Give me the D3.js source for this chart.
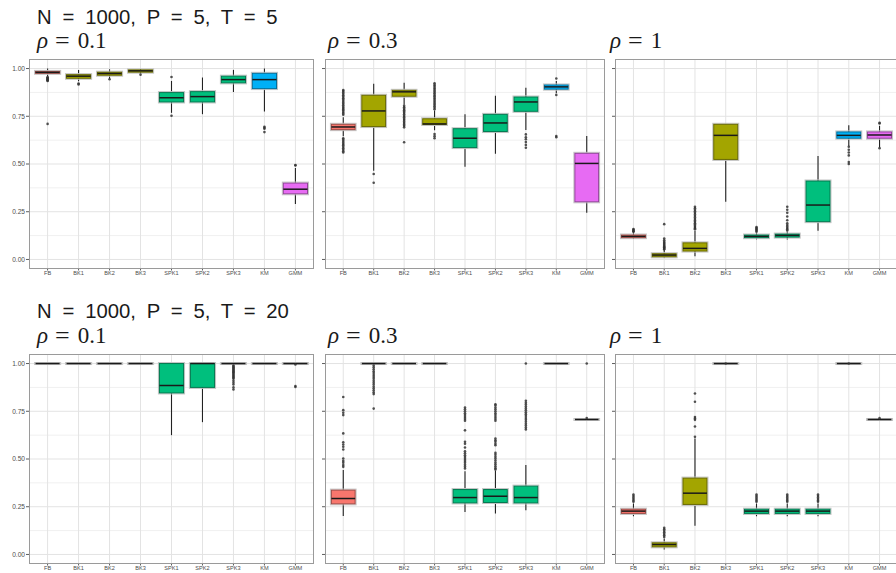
<!DOCTYPE html>
<html>
<head>
<meta charset="utf-8">
<script src="https://cdn.jsdelivr.net/npm/d3@7"></script>
<style>
  html, body { margin: 0; padding: 0; background: #fff; }
  svg { display: block; }
</style>
</head>
<body>
<svg id="chart" width="896" height="573"></svg>
<script>
// ---------------- DATA ----------------
const methods = ["FB","BK1","BK2","BK3","SPK1","SPK2","SPK3","KM","GMM"];
const methodGroup = ["FB","BK","BK","BK","SPK","SPK","SPK","KM","GMM"];
const groupNames = ["FB","BK","SPK","KM","GMM"];
const yTicks = [0, 0.25, 0.5, 0.75, 1];
const yTickLabels = ["0.00","0.25","0.50","0.75","1.00"];
const rowTitles = ["N = 1000, P = 5, T = 5", "N = 1000, P = 5, T = 20"];
const rhoValues = ["0.1", "0.3", "1"];

// T = 5, rho = 0.1
const t5r01Low  = [0.96, 0.933, 0.947, 0.975, 0.768, 0.761, 0.877, 0.775, 0.29];
const t5r01Q1   = [0.975, 0.949, 0.965, 0.981, 0.825, 0.825, 0.925, 0.895, 0.344];
const t5r01Med  = [0.98, 0.96, 0.974, 0.988, 0.847, 0.853, 0.942, 0.942, 0.368];
const t5r01Q3   = [0.985, 0.968, 0.981, 0.993, 0.874, 0.879, 0.96, 0.975, 0.40];
const t5r01High = [1.0, 0.993, 0.996, 0.998, 0.935, 0.953, 0.993, 1.0, 0.479];
const t5r01Out  = [
  [0.955, 0.952, 0.948, 0.945, 0.942, 0.94, 0.937, 0.935, 0.71],
  [0.922, 0.917], [0.944], [0.968], [0.956, 0.753], [], [],
  [0.695, 0.69, 0.685, 0.667], [0.495, 0.492]
];

// T = 5, rho = 0.3
const t5r03Low  = [0.645, 0.465, 0.81, 0.677, 0.486, 0.554, 0.678, 0.872, 0.245];
const t5r03Q1   = [0.68, 0.696, 0.855, 0.707, 0.586, 0.67, 0.776, 0.892, 0.302];
const t5r03Med  = [0.694, 0.778, 0.878, 0.71, 0.635, 0.715, 0.825, 0.904, 0.503];
const t5r03Q3   = [0.708, 0.86, 0.886, 0.737, 0.685, 0.76, 0.851, 0.914, 0.556];
const t5r03High = [0.745, 0.921, 0.925, 0.78, 0.76, 0.857, 0.899, 0.935, 0.647];
const t5r03Out  = [
  [0.888, 0.882, 0.875, 0.868, 0.86, 0.853, 0.845, 0.838, 0.83, 0.822, 0.815, 0.808, 0.8, 0.793, 0.786, 0.78, 0.772, 0.765, 0.758,
   0.635, 0.628, 0.62, 0.612, 0.605, 0.598, 0.59, 0.582, 0.575, 0.567, 0.56],
  [0.448, 0.402],
  [0.805, 0.797, 0.79, 0.782, 0.775, 0.768, 0.76, 0.752, 0.745, 0.737, 0.73, 0.722, 0.715, 0.707, 0.7, 0.692, 0.614],
  [0.923, 0.915, 0.908, 0.9, 0.893, 0.885, 0.878, 0.87, 0.862, 0.855, 0.847, 0.84, 0.832, 0.825, 0.817, 0.81, 0.802, 0.795, 0.787,
   0.657, 0.646, 0.635],
  [], [],
  [0.655, 0.64, 0.63, 0.615, 0.6, 0.585],
  [0.948, 0.862, 0.647, 0.64],
  []
];

// T = 5, rho = 1
const t5r1Low  = [0.107, 0.009, 0.017, 0.302, 0.105, 0.105, 0.15, 0.594, 0.587];
const t5r1Q1   = [0.114, 0.014, 0.044, 0.524, 0.114, 0.117, 0.198, 0.635, 0.635];
const t5r1Med  = [0.121, 0.023, 0.058, 0.65, 0.121, 0.126, 0.285, 0.65, 0.652];
const t5r1Q3   = [0.128, 0.03, 0.087, 0.708, 0.128, 0.133, 0.411, 0.668, 0.668];
const t5r1High = [0.142, 0.049, 0.15, 0.708, 0.138, 0.145, 0.542, 0.703, 0.70];
const t5r1Out  = [
  [0.159, 0.155, 0.152, 0.148, 0.145],
  [0.185, 0.11, 0.1, 0.093, 0.087, 0.082, 0.077, 0.072, 0.068, 0.064, 0.06, 0.056, 0.053],
  [0.276, 0.268, 0.26, 0.252, 0.244, 0.236, 0.228, 0.22, 0.212, 0.204, 0.197, 0.19, 0.183, 0.176, 0.17, 0.164, 0.158],
  [],
  [0.17, 0.165, 0.16, 0.155, 0.15, 0.145],
  [0.276, 0.26, 0.245, 0.225, 0.205, 0.19, 0.18, 0.172, 0.165, 0.158, 0.152],
  [],
  [0.59, 0.575, 0.56, 0.545, 0.51, 0.5],
  [0.716, 0.712, 0.583]
];

// T = 20, rho = 0.1
const t20r01Low  = [1, 1, 1, 1, 0.625, 0.693, 1, 1, 1];
const t20r01Q1   = [1, 1, 1, 1, 0.846, 0.875, 1, 1, 1];
const t20r01Med  = [1, 1, 1, 1, 0.885, 1, 1, 1, 1];
const t20r01Q3   = [1, 1, 1, 1, 1, 1, 1, 1, 1];
const t20r01High = [1, 1, 1, 1, 1, 1, 1, 1, 1];
const t20r01Out  = [
  [], [], [], [], [], [],
  [0.99, 0.985, 0.98, 0.975, 0.97, 0.965, 0.96, 0.955, 0.95, 0.945, 0.94, 0.935, 0.93, 0.925, 0.92, 0.91, 0.9, 0.89, 0.875, 0.864],
  [],
  [0.995, 0.882, 0.877]
];

// T = 20, rho = 0.3
const t20r03Low  = [0.202, 1, 1, 1, 0.223, 0.215, 0.232, 1, 0.707];
const t20r03Q1   = [0.265, 1, 1, 1, 0.27, 0.272, 0.27, 1, 0.707];
const t20r03Med  = [0.293, 1, 1, 1, 0.298, 0.305, 0.298, 1, 0.707];
const t20r03Q3   = [0.337, 1, 1, 1, 0.34, 0.34, 0.358, 1, 0.707];
const t20r03High = [0.442, 1, 1, 1, 0.436, 0.44, 0.468, 1, 0.707];
const t20r03Out  = [
  [0.825, 0.756, 0.742, 0.73, 0.634, 0.588, 0.576, 0.564, 0.55, 0.503, 0.49, 0.48, 0.468, 0.459],
  [0.99, 0.98, 0.97, 0.96, 0.95, 0.94, 0.93, 0.92, 0.91, 0.9, 0.89, 0.88, 0.87, 0.86, 0.85, 0.84, 0.764],
  [], [],
  [0.77, 0.76, 0.75, 0.74, 0.73, 0.72, 0.71, 0.70, 0.65, 0.59, 0.58, 0.56, 0.54, 0.53, 0.52, 0.51, 0.5, 0.49, 0.48, 0.47, 0.46, 0.45],
  [0.787, 0.78, 0.77, 0.76, 0.75, 0.74, 0.73, 0.72, 0.71, 0.70, 0.607, 0.598, 0.59, 0.58, 0.572,
   0.532, 0.522, 0.512, 0.502, 0.492, 0.482, 0.472, 0.462, 0.452, 0.445],
  [1.0, 0.805, 0.795, 0.785, 0.775, 0.765, 0.755, 0.745, 0.735, 0.725, 0.715, 0.705, 0.695, 0.685, 0.675, 0.665, 0.655],
  [],
  [1.0, 0.715]
];

// T = 20, rho = 1
const t20r1Low  = [0.2, 0.026, 0.15, 1, 0.2, 0.2, 0.2, 1, 0.707];
const t20r1Q1   = [0.215, 0.04, 0.262, 1, 0.215, 0.215, 0.215, 1, 0.707];
const t20r1Med  = [0.227, 0.052, 0.321, 1, 0.227, 0.227, 0.227, 1, 0.707];
const t20r1Q3   = [0.237, 0.061, 0.4, 1, 0.237, 0.237, 0.237, 1, 0.707];
const t20r1High = [0.267, 0.084, 0.607, 1, 0.267, 0.267, 0.267, 1, 0.707];
const t20r1Out  = [
  [0.314, 0.306, 0.298, 0.29, 0.283, 0.276],
  [0.14, 0.132, 0.124, 0.116, 0.108, 0.1, 0.092],
  [0.843, 0.8, 0.72, 0.712, 0.705, 0.67, 0.616],
  [1.0],
  [0.314, 0.306, 0.298, 0.29, 0.283, 0.276],
  [0.314, 0.306, 0.298, 0.29, 0.283, 0.276],
  [0.314, 0.306, 0.298, 0.29, 0.283, 0.276],
  [1.0],
  [0.714]
];

// ---------------- STYLE / LAYOUT ----------------
const palette = ["#F8766D", "#A3A500", "#00BF7D", "#00B0F6", "#E76BF3"];
const color = d3.scaleOrdinal().domain(groupNames).range(palette);

const panelData = [
  [t5r01Low, t5r01Q1, t5r01Med, t5r01Q3, t5r01High, t5r01Out],
  [t5r03Low, t5r03Q1, t5r03Med, t5r03Q3, t5r03High, t5r03Out],
  [t5r1Low, t5r1Q1, t5r1Med, t5r1Q3, t5r1High, t5r1Out],
  [t20r01Low, t20r01Q1, t20r01Med, t20r01Q3, t20r01High, t20r01Out],
  [t20r03Low, t20r03Q1, t20r03Med, t20r03Q3, t20r03High, t20r03Out],
  [t20r1Low, t20r1Q1, t20r1Med, t20r1Q3, t20r1High, t20r1Out]
];

const colX = [[29, 314], [325, 605], [615, 898]];
const rowY = [[59, 269], [354, 564]];
const rowTitleY = [24, 318];
const rhoTitleY = [48, 343];
const rhoTitleX = [37, 328, 610];

const svg = d3.select("#chart");

rowTitles.forEach((t, r) => {
  svg.append("text")
    .attr("x", 37).attr("y", rowTitleY[r])
    .attr("font-family", "Liberation Sans, Arial, sans-serif")
    .attr("font-size", 20.3)
    .attr("word-spacing", 5.2)
    .attr("fill", "#1a1a1a")
    .text(t);
});

panelData.forEach((pd, i) => {
  const r = Math.floor(i / 3), c = i % 3;
  const [x0, x1] = colX[c];
  const [y0, y1] = rowY[r];
  const [lo, q1, med, q3, hi, outs] = pd;

  const x = d3.scalePoint().domain(methods).range([x0, x1]).padding(0.6);
  const y = d3.scaleLinear().domain([-0.05, 1.05]).range([y1, y0]);
  const bw = x.step() * 0.78;

  // rho title
  const tt = svg.append("text")
    .attr("x", rhoTitleX[c]).attr("y", rhoTitleY[r])
    .attr("font-family", "Liberation Serif, Times New Roman, serif")
    .attr("font-size", 23)
    .attr("fill", "#1a1a1a");
  tt.append("tspan").attr("font-style", "italic").text("ρ");
  tt.append("tspan").attr("dx", 7).attr("font-size", 26).attr("dy", 1).text("=");
  tt.append("tspan").attr("dx", 8).attr("dy", -1).text(rhoValues[c]);

  const g = svg.append("g");

  // grid
  const minor = [0.125, 0.375, 0.625, 0.875];
  g.selectAll(".gmin").data(minor).enter().append("line")
    .attr("x1", x0).attr("x2", x1)
    .attr("y1", d => y(d)).attr("y2", d => y(d))
    .attr("stroke", "#f0f0f0").attr("stroke-width", 1);
  g.selectAll(".gmaj").data(yTicks).enter().append("line")
    .attr("x1", x0).attr("x2", x1)
    .attr("y1", d => y(d)).attr("y2", d => y(d))
    .attr("stroke", "#e3e3e3").attr("stroke-width", 1);
  g.selectAll(".gv").data(methods).enter().append("line")
    .attr("x1", d => x(d)).attr("x2", d => x(d))
    .attr("y1", y0).attr("y2", y1)
    .attr("stroke", "#e3e3e3").attr("stroke-width", 1);

  // boxes
  methods.forEach((m, k) => {
    const cx = x(m);
    const fill = color(methodGroup[k]);
    const dark = d3.color(fill).darker(1.3).formatHex();
    g.append("line").attr("x1", cx).attr("x2", cx)
      .attr("y1", y(hi[k])).attr("y2", y(q3[k]))
      .attr("stroke", "#222").attr("stroke-width", 1.1);
    g.append("line").attr("x1", cx).attr("x2", cx)
      .attr("y1", y(q1[k])).attr("y2", y(lo[k]))
      .attr("stroke", "#222").attr("stroke-width", 1.1);
    const top = y(q3[k]), bot = y(q1[k]);
    g.append("rect")
      .attr("x", cx - bw / 2 - 1).attr("y", top - 1)
      .attr("width", bw + 2).attr("height", Math.max(0, bot - top) + 2)
      .attr("fill", "none").attr("stroke", "#c4c4c4").attr("stroke-width", 1);
    g.append("rect")
      .attr("x", cx - bw / 2).attr("y", top)
      .attr("width", bw).attr("height", Math.max(0, bot - top))
      .attr("fill", fill).attr("stroke", dark).attr("stroke-width", 1);
    g.append("line")
      .attr("x1", cx - bw / 2).attr("x2", cx + bw / 2)
      .attr("y1", y(med[k])).attr("y2", y(med[k]))
      .attr("stroke", "#1a1a1a").attr("stroke-width", 1.5);
    g.selectAll(null).data(outs[k]).enter().append("circle")
      .attr("cx", cx).attr("cy", d => y(d)).attr("r", 1.3)
      .attr("fill", "#333").attr("fill-opacity", 0.85);
  });

  // border
  svg.append("rect").attr("x", x0 + 0.5).attr("y", y0 + 0.5)
    .attr("width", x1 - x0 - 1).attr("height", y1 - y0 - 1)
    .attr("fill", "none").attr("stroke", "#9a9a9a").attr("stroke-width", 1);

  // y ticks
  const ya = svg.append("g");
  yTicks.forEach((t, k) => {
    ya.append("line").attr("x1", x0 - 3).attr("x2", x0)
      .attr("y1", y(t)).attr("y2", y(t))
      .attr("stroke", "#333").attr("stroke-width", 0.8);
    if (c === 0) {
      ya.append("text").attr("x", x0 - 4).attr("y", y(t))
        .attr("dy", "0.35em").attr("text-anchor", "end")
        .attr("font-family", "Liberation Sans, Arial, sans-serif")
        .attr("font-size", 6.6).attr("fill", "#4d4d4d")
        .text(yTickLabels[k]);
    }
  });
  // x ticks
  methods.forEach(m => {
    svg.append("line").attr("x1", x(m)).attr("x2", x(m))
      .attr("y1", y1).attr("y2", y1 + 1.5)
      .attr("stroke", "#333").attr("stroke-width", 0.8);
    svg.append("text").attr("x", x(m)).attr("y", y1 + 4)
      .attr("dy", "0.35em").attr("text-anchor", "middle")
      .attr("font-family", "Liberation Sans, Arial, sans-serif")
      .attr("font-size", 5.6).attr("fill", "#4d4d4d")
      .text(m);
  });
});
</script>
</body>
</html>
